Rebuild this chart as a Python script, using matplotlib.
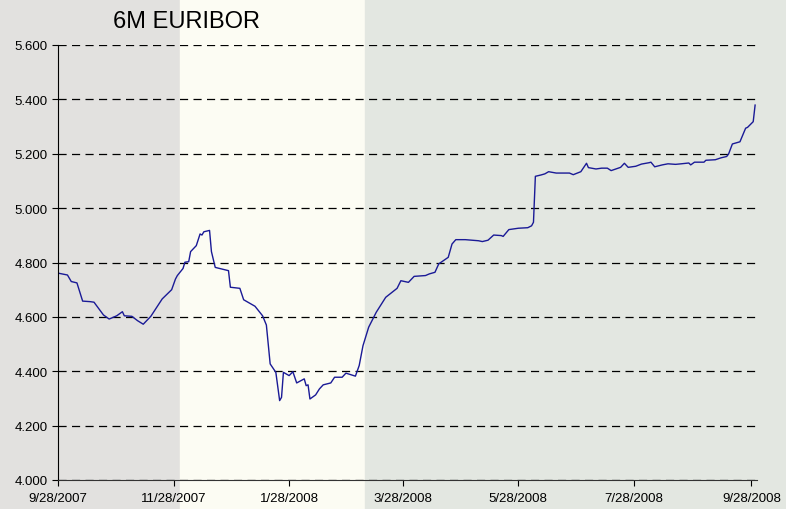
import matplotlib
matplotlib.use("Agg")
import matplotlib.pyplot as plt
import matplotlib.dates as mdates
from matplotlib.ticker import FuncFormatter, MultipleLocator
from matplotlib.patches import Rectangle
import pandas as pd

# 6M EURIBOR fixings (Sep 2007 - Sep 2008)
dates = [
    "2007-09-28", "2007-10-03", "2007-10-05", "2007-10-08", "2007-10-11", "2007-10-15",
    "2007-10-17", "2007-10-22", "2007-10-25", "2007-10-29", "2007-11-01", "2007-11-02",
    "2007-11-06", "2007-11-09", "2007-11-12", "2007-11-16", "2007-11-22", "2007-11-27",
    "2007-11-29", "2007-11-30", "2007-12-03", "2007-12-04", "2007-12-06", "2007-12-07",
    "2007-12-10", "2007-12-12", "2007-12-13", "2007-12-14", "2007-12-17", "2007-12-18",
    "2007-12-20", "2007-12-27", "2007-12-28", "2008-01-02", "2008-01-04", "2008-01-10",
    "2008-01-14", "2008-01-16", "2008-01-18", "2008-01-21", "2008-01-23", "2008-01-24",
    "2008-01-25", "2008-01-28", "2008-01-30", "2008-02-01", "2008-02-05", "2008-02-06",
    "2008-02-07", "2008-02-08", "2008-02-11", "2008-02-13", "2008-02-15", "2008-02-19",
    "2008-02-21", "2008-02-25", "2008-02-27", "2008-03-03", "2008-03-05", "2008-03-07",
    "2008-03-10", "2008-03-14", "2008-03-19", "2008-03-25", "2008-03-27", "2008-03-31",
    "2008-04-03", "2008-04-09", "2008-04-11", "2008-04-14", "2008-04-16", "2008-04-21",
    "2008-04-23", "2008-04-25", "2008-04-30", "2008-05-07", "2008-05-09", "2008-05-12",
    "2008-05-15", "2008-05-19", "2008-05-20", "2008-05-23", "2008-05-28", "2008-06-02",
    "2008-06-04", "2008-06-05", "2008-06-06", "2008-06-09", "2008-06-11", "2008-06-13",
    "2008-06-17", "2008-06-24", "2008-06-26", "2008-06-30", "2008-07-03", "2008-07-04",
    "2008-07-08", "2008-07-11", "2008-07-14", "2008-07-16", "2008-07-21", "2008-07-23",
    "2008-07-25", "2008-07-29", "2008-08-01", "2008-08-05", "2008-08-06", "2008-08-08",
    "2008-08-12", "2008-08-15", "2008-08-19", "2008-08-22", "2008-08-26", "2008-08-27",
    "2008-08-29", "2008-09-03", "2008-09-04", "2008-09-09", "2008-09-12", "2008-09-15",
    "2008-09-16", "2008-09-18", "2008-09-22", "2008-09-25", "2008-09-26", "2008-09-29",
    "2008-09-30",
]
rates = [
    4.761, 4.754, 4.730, 4.725, 4.658, 4.656,
    4.654, 4.607, 4.592, 4.604, 4.619, 4.604,
    4.602, 4.586, 4.573, 4.602, 4.666, 4.700,
    4.739, 4.752, 4.778, 4.801, 4.803, 4.840,
    4.862, 4.905, 4.901, 4.913, 4.918, 4.840,
    4.782, 4.770, 4.709, 4.705, 4.663, 4.639,
    4.604, 4.570, 4.427, 4.396, 4.292, 4.304,
    4.396, 4.384, 4.398, 4.357, 4.372, 4.347,
    4.350, 4.298, 4.313, 4.335, 4.350, 4.357,
    4.378, 4.378, 4.393, 4.382, 4.421, 4.494,
    4.562, 4.617, 4.672, 4.705, 4.733, 4.727,
    4.749, 4.752, 4.758, 4.764, 4.795, 4.819,
    4.868, 4.884, 4.884, 4.880, 4.877, 4.882,
    4.901, 4.899, 4.896, 4.921, 4.926, 4.928,
    4.935, 4.948, 5.117, 5.122, 5.126, 5.134,
    5.129, 5.129, 5.123, 5.134, 5.165, 5.149,
    5.144, 5.147, 5.147, 5.138, 5.150, 5.165,
    5.150, 5.154, 5.162, 5.167, 5.169, 5.152,
    5.159, 5.163, 5.161, 5.163, 5.166, 5.159,
    5.169, 5.169, 5.176, 5.178, 5.185, 5.190,
    5.199, 5.236, 5.244, 5.294, 5.297, 5.318,
    5.379,
]
tick_dates = ["2007-09-28", "2007-11-28", "2008-01-28", "2008-03-28",
              "2008-05-28", "2008-07-28", "2008-09-28"]

dates = pd.to_datetime(dates)
tick_dates = pd.to_datetime(tick_dates)

plt.rcParams['font.family'] = ['Liberation Sans', 'DejaVu Sans']

fig = plt.figure(figsize=(7.86, 5.10), dpi=100)

# background bands imitating the watermark picture
fig.patches.append(Rectangle((0, 0), 180 / 786, 1, transform=fig.transFigure,
                             color="#e2e1df", zorder=-10))
fig.patches.append(Rectangle((180 / 786, 0), 185 / 786, 1, transform=fig.transFigure,
                             color="#fcfcf3", zorder=-10))
fig.patches.append(Rectangle((365 / 786, 0), 421 / 786, 1, transform=fig.transFigure,
                             color="#e3e7e1", zorder=-10))

ax = fig.add_axes([58 / 786, 1 - 481 / 510, (757 - 58) / 786, (481 - 46) / 510])
ax.patch.set_alpha(0)

ax.plot(dates, rates, color="#1a1a96", linewidth=1.0)

ax.set_ylim(4.0, 5.6)
ax.set_xlim(pd.Timestamp("2007-09-28"), pd.Timestamp("2008-10-01"))
ax.yaxis.set_major_locator(MultipleLocator(0.2))
ax.yaxis.set_major_formatter(FuncFormatter(lambda v, p: f"{v:.3f}"))
ax.set_xticks(tick_dates)
ax.xaxis.set_major_formatter(FuncFormatter(
    lambda v, p: (lambda d: f"{d.month}/{d.day}/{d.year}")(mdates.num2date(v))))

ax.grid(True, axis="y", color="black", linewidth=0.9, linestyle=(0, (6.5, 4.3)))
ax.set_axisbelow(True)
for s in ["top", "right"]:
    ax.spines[s].set_visible(False)
ax.spines["left"].set_color("black")
ax.spines["bottom"].set_color("#333333")
ax.tick_params(axis="both", labelsize=9.5, length=4, width=0.8, colors="black")
ax.tick_params(axis="x", pad=5)

fig.text(113 / 786, 1 - 22 / 510, "6M EURIBOR", fontsize=17, va="center", ha="left")

fig.savefig("out.png", dpi=100)
